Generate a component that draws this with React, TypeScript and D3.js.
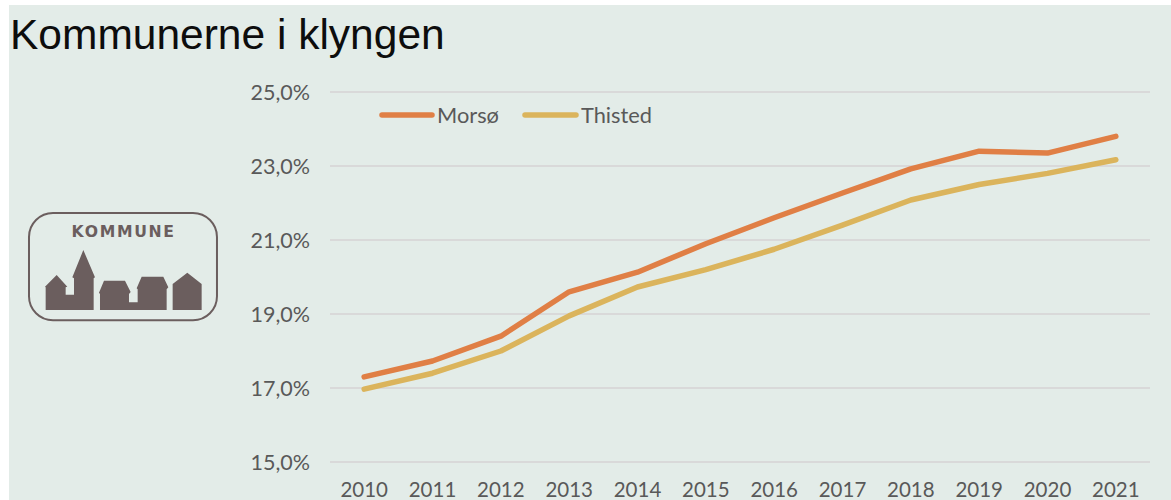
import React from 'react'
import * as d3 from 'd3'

const years = ['2010', '2011', '2012', '2013', '2014', '2015', '2016', '2017', '2018', '2019', '2020', '2021']
const morsoe = [17.3, 17.73, 18.4, 19.6, 20.13, 20.9, 21.6, 22.27, 22.92, 23.4, 23.35, 23.8]
const thisted = [16.97, 17.4, 18.0, 18.95, 19.73, 20.2, 20.75, 21.4, 22.08, 22.5, 22.8, 23.17]
const yTicks = [15, 17, 19, 21, 23, 25]

const width = 1171
const height = 500
const ORANGE = '#e07f45'
const YELLOW = '#dbb45c'
const TEXT = '#595959'
const ICON = '#6b5e5e'
const FONT = 'Lato, "Open Sans", sans-serif'

const xScale = d3.scaleBand<string>().domain(years).range([330, 1150])
const yScale = d3.scaleLinear().domain([15, 25]).range([462, 92])

const xCenter = (year: string) => (xScale(year) as number) + xScale.bandwidth() / 2

const lineGen = d3
  .line<number>()
  .x((_, i) => xCenter(years[i]))
  .y((d) => yScale(d))
  .curve(d3.curveLinear)

const percent = (v: number) => v.toFixed(1).replace('.', ',') + '%'

// silhouette, in 3x units
const housesPath =
  'M137 360V292L135 290L170 255L202 290L197 292V314H222V265L217 262L250 180L285 262L281 265V360Z' +
  'M281 360H300V312L297 308L312 272H375L392 306L387 312V337H413V298L410 295L425 260H490L505 292L500 298V360Z' +
  'M518 360V282L562 248L605 282V360Z'

function KommuneIcon() {
  return (
    <g transform="translate(0,190) scale(0.3333)">
      <rect x={87} y={69} width={564} height={322} rx={72} fill="none" stroke={ICON} strokeWidth={6} />
      <text x={371} y={140} textAnchor="middle" fontFamily='"DejaVu Sans", sans-serif' fontWeight={700} fontSize={47} letterSpacing={5} fill={ICON}>
        KOMMUNE
      </text>
      <path d={housesPath} fill={ICON} />
    </g>
  )
}

export default function App() {
  return (
    <svg width={width} height={height} style={{ position: 'absolute', left: 0, top: 0, display: 'block', background: '#fff' }}>
      <rect x={9} y={5} width={width - 9} height={height - 5} fill="#e3ece8" />
      <text x={10} y={49} fontFamily='"Liberation Sans", Arial, sans-serif' fontSize={42.5} fill="#0d0d0d">
        Kommunerne i klyngen
      </text>

      <KommuneIcon />

      {yTicks.map((t) => (
        <g key={t}>
          <line x1={330} x2={1150} y1={yScale(t)} y2={yScale(t)} stroke="#d9d9d9" strokeWidth={2} />
          <text x={310} y={yScale(t) + 8} textAnchor="end" fontFamily={FONT} fontSize={21.5} fill={TEXT}>
            {percent(t)}
          </text>
        </g>
      ))}

      {years.map((y) => (
        <text key={y} x={xCenter(y)} y={497} textAnchor="middle" fontFamily={FONT} fontSize={20.5} fill={TEXT}>
          {y}
        </text>
      ))}

      <path d={lineGen(morsoe) as string} fill="none" stroke={ORANGE} strokeWidth={5.5} strokeLinecap="round" strokeLinejoin="round" />
      <path d={lineGen(thisted) as string} fill="none" stroke={YELLOW} strokeWidth={5.5} strokeLinecap="round" strokeLinejoin="round" />

      {/* legend */}
      <line x1={382} x2={432} y1={115} y2={115} stroke={ORANGE} strokeWidth={5.5} strokeLinecap="round" />
      <text x={437} y={123} fontFamily={FONT} fontSize={21.8} fill={TEXT}>Morsø</text>
      <line x1={525} x2={576} y1={115} y2={115} stroke={YELLOW} strokeWidth={5.5} strokeLinecap="round" />
      <text x={581} y={123} fontFamily={FONT} fontSize={21.8} fill={TEXT}>Thisted</text>
    </svg>
  )
}
